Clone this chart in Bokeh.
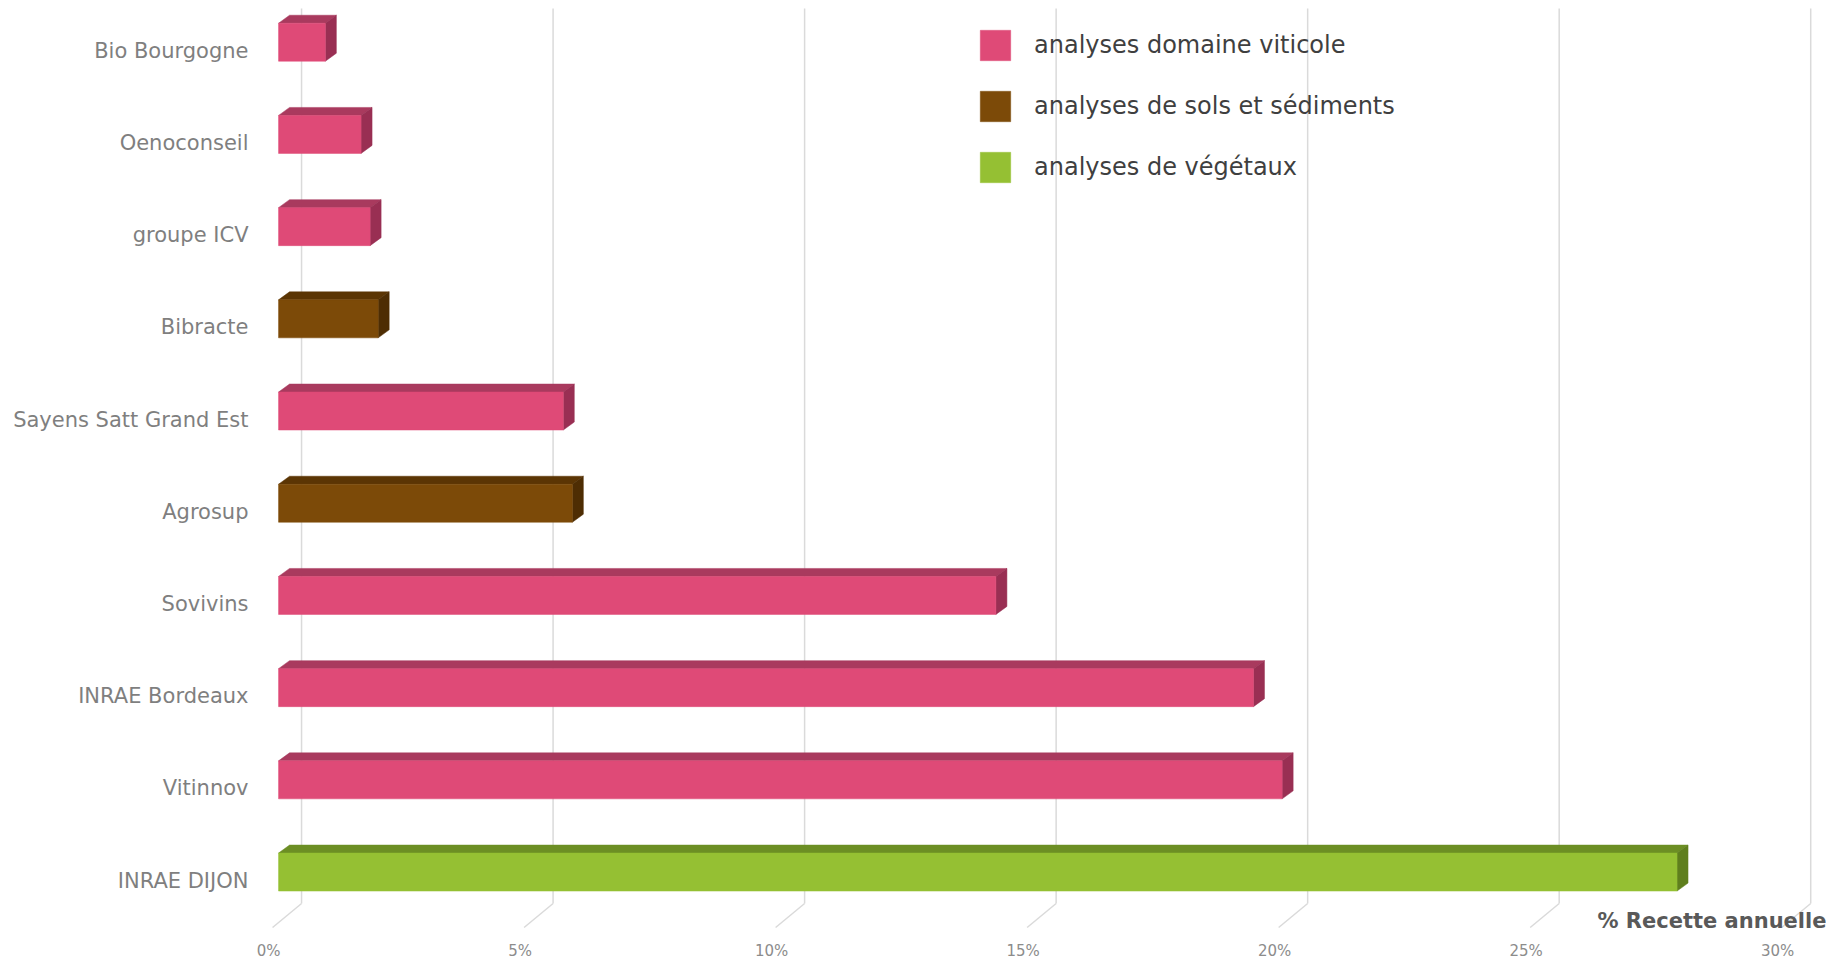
from bokeh.plotting import figure
from bokeh.models import Range1d, FixedTicker, Label, Legend, LegendItem, ColumnDataSource
from bokeh.embed import file_html
from bokeh.resources import INLINE

# ---------------- data (bottom to top) ----------------
categories = ["INRAE DIJON", "Vitinnov", "INRAE Bordeaux", "Sovivins", "Agrosup",
              "Sayens Satt Grand Est", "Bibracte", "groupe ICV", "Oenoconseil", "Bio Bourgogne"]
values = [27.8, 19.95, 19.38, 14.26, 5.84, 5.66, 1.98, 1.82, 1.64, 0.93]
series_of = ["analyses de végétaux", "analyses domaine viticole", "analyses domaine viticole",
             "analyses domaine viticole", "analyses de sols et sédiments", "analyses domaine viticole",
             "analyses de sols et sédiments", "analyses domaine viticole", "analyses domaine viticole",
             "analyses domaine viticole"]
series_names = ["analyses domaine viticole", "analyses de sols et sédiments", "analyses de végétaux"]
x_ticks = [0, 5, 10, 15, 20, 25, 30]
x_tick_labels = ["0%", "5%", "10%", "15%", "20%", "25%", "30%"]
axis_title = "% Recette annuelle"

# ---------------- styles ----------------
FRONT = {"analyses domaine viticole": "#DF4A77",
         "analyses de sols et sédiments": "#7C4A08",
         "analyses de végétaux": "#95C033"}
TOP = {"analyses domaine viticole": "#A93A5E",
       "analyses de sols et sédiments": "#5B3504",
       "analyses de végétaux": "#6C8E24"}
SIDE = {"analyses domaine viticole": "#992F53",
        "analyses de sols et sédiments": "#4E2D03",
        "analyses de végétaux": "#5F7F1D"}

FRAME_W, FRAME_H = 1568, 932
X0, X1 = -0.2, 30.97
Y1 = 9.458
ppx = FRAME_W / (X1 - X0)
ppy = 920 / 9.978
Y0 = Y1 - FRAME_H / ppy
FLOOR = -0.52


def dx(px):
    return px / ppx


def dy(px):
    return px / ppy


p = figure(frame_width=FRAME_W, frame_height=FRAME_H,
           x_range=Range1d(X0, X1), y_range=Range1d(Y0, Y1),
           output_backend="svg", toolbar_location=None,
           min_border_left=258, min_border_right=0, min_border_top=8, min_border_bottom=18)
p.outline_line_color = None
p.grid.visible = False
p.background_fill_color = "white"
p.border_fill_color = "white"

# ---------------- back-plane gridlines + floor diagonals ----------------
floor_front = FLOOR + dy(1)
floor_back = floor_front + dy(24)
gx_back = [t + dx(33) for t in x_ticks]
gx_front = [t + dx(4) for t in x_ticks]
p.segment(x0=gx_back, y0=[floor_back] * len(x_ticks), x1=gx_back, y1=[Y1 + 1] * len(x_ticks),
          line_color="#DADADA", line_width=1.5)
p.segment(x0=gx_back, y0=[floor_back] * len(x_ticks), x1=gx_front, y1=[floor_front] * len(x_ticks),
          line_color="#DADADA", line_width=1.5)

# ---------------- 3D bars ----------------
off_x, off_y = dx(10), dy(8.5)
bh = dy(38)
ddx, ddy = dx(11), dy(8)

tops_x, tops_y, tops_c = [], [], []
sides_x, sides_y, sides_c = [], [], []
for i, (v, s) in enumerate(zip(values, series_of)):
    xl, xr = off_x, v + off_x
    yc = i + off_y
    yt, yb = yc + bh / 2, yc - bh / 2
    tops_x.append([xl, xl + ddx, xr + ddx, xr])
    tops_y.append([yt, yt + ddy, yt + ddy, yt])
    tops_c.append(TOP[s])
    sides_x.append([xr, xr, xr + ddx, xr + ddx])
    sides_y.append([yb, yt, yt + ddy, yb + ddy])
    sides_c.append(SIDE[s])

p.patches(xs=tops_x, ys=tops_y, fill_color=tops_c, line_color=tops_c, line_width=0.5)
p.patches(xs=sides_x, ys=sides_y, fill_color=sides_c, line_color=sides_c, line_width=0.5)

items = []
for name in series_names:
    idx = [i for i, s in enumerate(series_of) if s == name]
    src = ColumnDataSource(dict(y=[i + off_y for i in idx],
                                right=[values[i] + off_x for i in idx],
                                left=[off_x] * len(idx)))
    r = p.hbar(y="y", left="left", right="right", height=bh, source=src,
               fill_color=FRONT[name], line_color=FRONT[name], line_width=0.5)
    items.append(LegendItem(label=name, renderers=[r]))

legend = Legend(items=items, location=(718, 742 + (FRAME_H - 920)))
legend.glyph_width = 38
legend.glyph_height = 38
legend.spacing = 23
legend.label_standoff = 20
legend.padding = 0
legend.margin = 0
legend.border_line_color = None
legend.background_fill_alpha = 0
legend.label_text_font = "DejaVu Sans"
legend.label_text_font_size = "24px"
legend.label_text_color = "#3F3F3F"
legend.label_height = 38
p.add_layout(legend)

# ---------------- axes ----------------
p.yaxis.ticker = FixedTicker(ticks=list(range(len(categories))))
p.yaxis.major_label_overrides = {i: c for i, c in enumerate(categories)}
p.yaxis.axis_line_color = None
p.yaxis.major_tick_line_color = None
p.yaxis.minor_tick_line_color = None
p.yaxis.major_tick_out = 0
p.yaxis.major_tick_in = 0
p.yaxis.major_label_standoff = 10
p.yaxis.major_label_text_font = "DejaVu Sans"
p.yaxis.major_label_text_font_size = "21px"
p.yaxis.major_label_text_color = "#7F7F7F"

p.xaxis.ticker = FixedTicker(ticks=x_ticks)
p.xaxis.major_label_overrides = {t: l for t, l in zip(x_ticks, x_tick_labels)}
p.xaxis.axis_line_color = None
p.xaxis.major_tick_line_color = None
p.xaxis.minor_tick_line_color = None
p.xaxis.major_tick_out = 0
p.xaxis.major_tick_in = 0
p.xaxis.major_label_standoff = 1
p.xaxis.major_label_text_font = "DejaVu Sans"
p.xaxis.major_label_text_font_size = "15px"
p.xaxis.major_label_text_color = "#8C8C8C"

p.add_layout(Label(x=X1, y=FLOOR + dy(8), text=axis_title, text_align="right",
                   text_baseline="middle", text_font="DejaVu Sans", text_font_style="bold",
                   text_font_size="21px", text_color="#595959"))

open("out.html", "w").write(file_html(p, INLINE))
